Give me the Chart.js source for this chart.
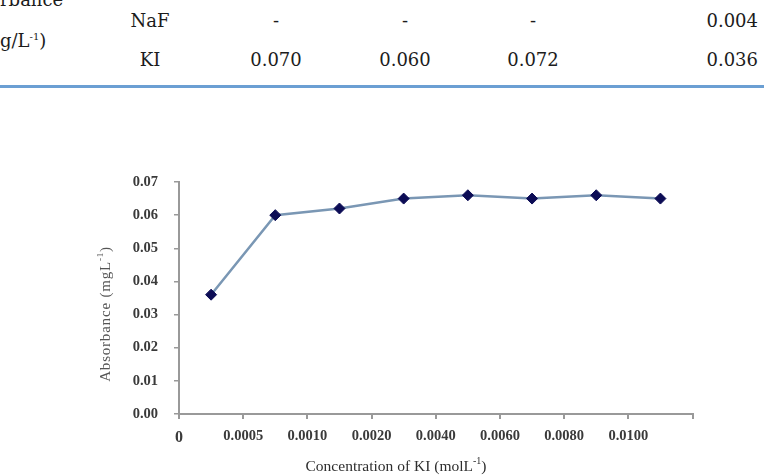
<!DOCTYPE html>
<html>
<head>
<meta charset="utf-8">
<script src="https://cdn.jsdelivr.net/npm/chart.js@4/dist/chart.umd.min.js"></script>
<style>
html,body{margin:0;padding:0;background:#fff;width:764px;height:476px;overflow:hidden;}
#wrap{position:relative;width:764px;height:476px;}
.t{position:absolute;font-family:"DejaVu Serif";font-size:18px;line-height:18px;color:#1c1c1c;white-space:nowrap;}
.c{transform:translateX(-50%);}
.r{transform:translateX(-100%);}
sup{font-size:10px;line-height:0;vertical-align:7px;}
#rule{position:absolute;left:0;top:85px;width:764px;height:3px;background:#6b9fd3;}
canvas{position:absolute;left:0;top:0;}
</style>
</head>
<body>
<div id="wrap">
  <div id="table"></div>
  <div id="rule"></div>
  <canvas id="chart" width="764" height="476"></canvas>
</div>
<script>
// ---- table fragment data ----
const tableRowLabels = ['NaF', 'KI'];
const nafValues = ['-', '-', '-', '0.004'];
const kiValues = ['0.070', '0.060', '0.072', '0.036'];

// ---- chart data ----
const xTickLabels = ['0', '0.0005', '0.0010', '0.0020', '0.0040', '0.0060', '0.0080', '0.0100', ''];
const absorbance = [0.036, 0.060, 0.062, 0.065, 0.066, 0.065, 0.066, 0.065];

// build table fragment
(function(){
  const t = document.getElementById('table');
  function add(text, x, top, cls, html){
    const d = document.createElement('div');
    d.className = 't ' + (cls||'');
    d.style.left = x + 'px';
    d.style.top = top + 'px';
    if (html) d.innerHTML = text; else d.textContent = text;
    t.appendChild(d);
  }
  add('rbance', 0, -9);
  add('g/L<sup>-1</sup>)', 0, 32, '', true);
  const rowTops = [12, 51];
  const colX = [276, 405, 533];
  const rows = [nafValues, kiValues];
  tableRowLabels.forEach((lab, r) => {
    add(lab, 150, rowTops[r], 'c');
    rows[r].forEach((v, i) => {
      if (i < colX.length) add(v, colX[i], rowTops[r], 'c');
      else add(v, 758, rowTops[r], 'r');
    });
  });
})();

const serif = '"Liberation Serif", "Times New Roman", serif';

function drawSupText(ctx, main, sup, tail, size){
  ctx.font = size + 'px ' + serif;
  const w1 = ctx.measureText(main).width;
  const w3 = ctx.measureText(tail).width;
  ctx.font = Math.round(size*0.62) + 'px ' + serif;
  const w2 = ctx.measureText(sup).width;
  const total = w1 + w2 + w3;
  let x = -total/2;
  ctx.textAlign = 'left';
  ctx.textBaseline = 'middle';
  ctx.font = size + 'px ' + serif;
  ctx.fillText(main, x, 0); x += w1;
  ctx.font = Math.round(size*0.62) + 'px ' + serif;
  ctx.fillText(sup, x, -size*0.35); x += w2;
  ctx.font = size + 'px ' + serif;
  ctx.fillText(tail, x, 0);
}

const axisTitles = {
  id: 'axisTitles',
  afterDraw(chart){
    const ctx = chart.ctx;
    const a = chart.chartArea;
    ctx.save();
    ctx.fillStyle = '#2e2e2e';
    ctx.translate(a.left + 217, 466.5);
    drawSupText(ctx, 'Concentration of KI (molL', '-1', ')', 15.5);
    ctx.restore();
    ctx.save();
    ctx.fillStyle = '#555';
    ctx.translate(106, 314);
    ctx.rotate(-Math.PI/2);
    ctx.letterSpacing = '0.8px';
    drawSupText(ctx, 'Absorbance (mgL', '-1', ')', 15);
    ctx.restore();
  }
};

new Chart(document.getElementById('chart'), {
  type: 'line',
  data: {
    datasets: [{
      data: absorbance.map((v, i) => ({x: i + 0.5, y: v})),
      borderColor: '#7a97b4',
      borderWidth: 2.5,
      tension: 0,
      pointStyle: 'rectRot',
      pointRadius: 5.5,
      pointHoverRadius: 5.5,
      pointBackgroundColor: '#0c0c55',
      pointBorderColor: '#0c0c55',
      pointBorderWidth: 1,
      clip: false
    }]
  },
  options: {
    responsive: false,
    animation: false,
    events: [],
    layout: {padding: {top: 182, right: 71.5, left: 0, bottom: 0}},
    plugins: {legend: {display: false}, tooltip: {enabled: false}},
    scales: {
      x: {
        type: 'linear',
        min: 0,
        max: xTickLabels.length - 1,
        afterBuildTicks(scale){
          scale.ticks = xTickLabels.map((l, i) => ({value: i}));
        },
        afterFit(scale){ scale.height = 62; },
        ticks: {
          autoSkip: false,
          maxRotation: 0,
          padding: 9,
          color: '#3a3a3a',
          font: (c) => ({family: serif, size: c.index === 0 ? 16 : 14.5, weight: 'bold'}),
          callback: (v, i) => xTickLabels[i]
        },
        grid: {display: true, drawOnChartArea: false, drawTicks: true, tickLength: 5, color: '#999999', lineWidth: 2},
        border: {display: true, color: '#999999', width: 2}
      },
      y: {
        min: 0,
        max: 0.07,
        afterFit(scale){ scale.width = 179; },
        ticks: {
          stepSize: 0.01,
          padding: 16,
          color: '#3a3a3a',
          font: {family: serif, size: 14.5, weight: 'bold'},
          callback: (v) => v.toFixed(2)
        },
        grid: {display: true, drawOnChartArea: false, drawTicks: true, tickLength: 5, color: '#999999', lineWidth: 1.5},
        border: {display: true, color: '#999999', width: 2}
      }
    }
  },
  plugins: [axisTitles]
});
</script>
</body>
</html>
